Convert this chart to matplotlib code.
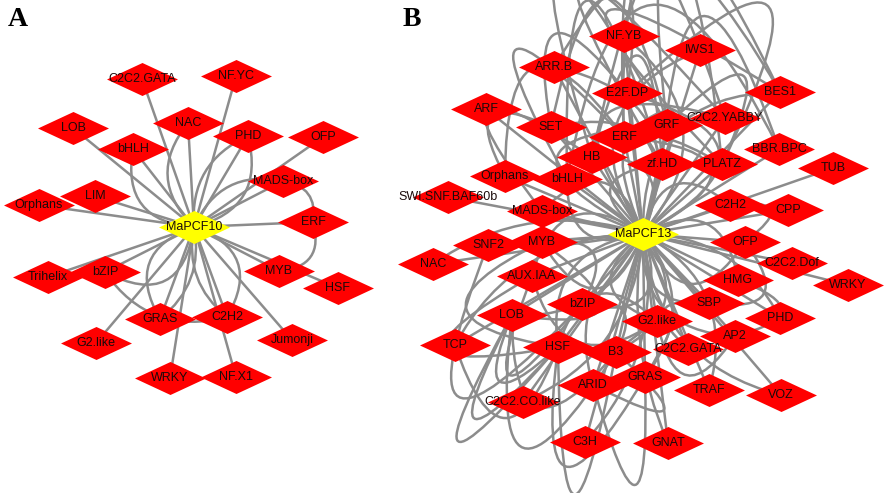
"""Two co-expression networks: MaPCF10 (A) and MaPCF13 (B) with TF families."""

import matplotlib

matplotlib.use("Agg")
import matplotlib.pyplot as plt
from matplotlib.patches import FancyArrowPatch

# ---- panel A nodes (pixel positions) ----
hub_a = "MaPCF10"
nodes_a = ["MaPCF10", "C2C2.GATA", "NF.YC", "LOB", "NAC", "bHLH", "PHD", "OFP",
           "MADS-box", "LIM", "Orphans", "ERF", "Trihelix", "bZIP", "MYB", "HSF",
           "GRAS", "C2H2", "G2.like", "Jumonji", "WRKY", "NF.X1"]
xa = [194, 142, 236, 73, 188, 133, 248, 323, 283, 95, 39, 313, 48, 105, 279,
      338, 160, 227, 96, 292, 170, 236]
ya = [227, 79, 76, 128, 123, 149, 136, 137, 181, 196, 205, 222, 277, 272, 271,
      288, 319, 317, 343, 340, 378, 377]
# extra curved interactions in A: (source, target, arc3 rad)
arcs_a = [("bHLH", "MaPCF10", 0.55), ("NAC", "MaPCF10", 0.45), ("PHD", "MaPCF10", -0.5),
          ("PHD", "MaPCF10", 0.35), ("MADS-box", "ERF", -0.5), ("MADS-box", "MaPCF10", 0.4),
          ("bZIP", "MaPCF10", 0.7), ("GRAS", "MaPCF10", -0.6), ("C2H2", "MaPCF10", 0.6),
          ("GRAS", "MaPCF10", 0.3), ("ERF", "MYB", -0.6), ("C2H2", "MaPCF10", -0.3),
          ("bZIP", "C2H2", 0.35)]

# ---- panel B nodes ----
hub_b = "MaPCF13"
nodes_b = ["MaPCF13", "NF.YB", "IWS1", "ARR.B", "E2F.DP", "BES1", "ARF", "SET", "GRF",
           "C2C2.YABBY", "ERF", "BBR.BPC", "HB", "zf.HD", "PLATZ", "TUB", "Orphans",
           "bHLH", "SWI.SNF.BAF60b", "MADS-box", "C2H2", "CPP", "SNF2", "MYB", "OFP",
           "NAC", "C2C2.Dof", "AUX.IAA", "HMG", "WRKY", "bZIP", "SBP", "LOB", "PHD",
           "G2.like", "AP2", "TCP", "HSF", "B3", "C2C2.GATA", "GRAS", "ARID", "TRAF",
           "VOZ", "C2C2.CO.like", "C3H", "GNAT"]
xb = [643, 624, 700, 554, 627, 780, 486, 551, 667, 725, 624, 779, 592, 662, 722, 833,
      505, 567, 448, 542, 730, 788, 488, 542, 745, 433, 792, 532, 738, 848, 582, 709,
      512, 780, 657, 735, 455, 558, 616, 688, 645, 593, 709, 781, 523, 585, 668]
yb = [234, 36, 50, 67, 93, 92, 109, 127, 125, 118, 137, 149, 157, 164, 164, 168, 176,
      179, 197, 211, 205, 210, 245, 242, 242, 264, 263, 276, 280, 285, 304, 303, 315,
      318, 321, 336, 345, 347, 352, 349, 377, 385, 390, 395, 402, 442, 443]
arcs_b = [
    # tall loops escaping over the top
    ("HB", "PLATZ", -3.2), ("bHLH", "zf.HD", -3.6), ("SET", "GRF", -2.2), ("ERF", "C2C2.YABBY", -3.5),
    ("MADS-box", "HB", -3.0), ("HB", "GRF", -4.5), ("E2F.DP", "PLATZ", -2.6), ("bHLH", "ERF", -3.8),
    ("zf.HD", "C2C2.YABBY", -5.0), ("SET", "E2F.DP", -2.0), ("PLATZ", "BES1", -4.0),
    ("ERF", "BES1", -2.0), ("bHLH", "BBR.BPC", -1.5), ("ARR.B", "E2F.DP", -2.5),
    ("GRF", "BES1", -3.0), ("zf.HD", "BBR.BPC", -2.4), ("Orphans", "SET", -1.5),
    ("MaPCF13", "GRF", -1.8), ("MaPCF13", "ERF", 1.6), ("MaPCF13", "C2C2.YABBY", -1.4),
    ("Orphans", "ERF", -1.5), ("MaPCF13", "E2F.DP", 1.2), ("MaPCF13", "IWS1", -0.6),
    ("MaPCF13", "NF.YB", 0.5), ("HB", "zf.HD", -3.0), ("MaPCF13", "SET", 0.9),
    ("MaPCF13", "ARR.B", 0.6), ("MaPCF13", "BES1", -0.5), ("MaPCF13", "PLATZ", -1.5),
    ("MaPCF13", "HB", 0.8), ("MaPCF13", "zf.HD", -1.2), ("GRF", "PLATZ", -2.5),
    ("ERF", "zf.HD", -2.0),
    # left side loops
    ("HSF", "LOB", -2.2), ("bZIP", "AUX.IAA", -3.4), ("HSF", "AUX.IAA", -2.8), ("B3", "LOB", -1.4),
    ("MYB", "LOB", -2.0), ("bZIP", "SNF2", -2.6), ("MaPCF13", "TCP", 0.3), ("MaPCF13", "NAC", 0.25),
    ("HSF", "MYB", -1.6), ("G2.like", "AUX.IAA", -0.7), ("MaPCF13", "LOB", -0.35),
    ("MaPCF13", "C2C2.CO.like", -0.3), ("bZIP", "MYB", 1.0),
    ("LOB", "HSF", 4.8), ("LOB", "HSF", 3.8), ("TCP", "HSF", 1.4), ("LOB", "B3", 2.2),
    # bottom loops
    ("ARID", "GRAS", 4.0), ("HSF", "B3", 5.0), ("ARID", "B3", 3.6), ("HSF", "GRAS", 2.4),
    ("B3", "GRAS", -3.2), ("MaPCF13", "C3H", -0.25), ("MaPCF13", "GNAT", 0.15),
    ("MaPCF13", "ARID", 0.35), ("MaPCF13", "GRAS", -0.4), ("MaPCF13", "HSF", 0.5),
    ("MaPCF13", "B3", -0.6), ("G2.like", "HSF", 0.8), ("bZIP", "B3", -1.0),
    # right side
    ("MaPCF13", "AP2", 0.5), ("MaPCF13", "TRAF", -0.4), ("MaPCF13", "VOZ", 0.35),
    ("MaPCF13", "SBP", 0.6), ("MaPCF13", "HMG", -0.7), ("MaPCF13", "OFP", 0.9),
    ("MaPCF13", "C2H2", -0.8), ("MaPCF13", "PHD", -0.3), ("SBP", "C2C2.GATA", 1.5),
    ("HMG", "AP2", -1.6), ("OFP", "SBP", -1.2), ("C2H2", "OFP", -1.8), ("G2.like", "AP2", 1.2),
    ("MaPCF13", "G2.like", 0.9), ("MaPCF13", "bZIP", -0.9), ("MaPCF13", "AUX.IAA", 0.7),
    ("MaPCF13", "MYB", -1.0), ("MaPCF13", "MADS-box", 0.8), ("MaPCF13", "bHLH", -0.7),
]

EDGE = "#8c8c8c"
NODE_RED = "#ff0000"
HUB_YELLOW = "#ffff00"
DIAMOND = [(-1.0, 0.0), (0.0, 0.465), (1.0, 0.0), (0.0, -0.465), (-1.0, 0.0)]

fig = plt.figure(figsize=(8.85, 4.93), dpi=100)
ax = fig.add_axes([0, 0, 1, 1])
ax.set_xlim(0, 885)
ax.set_ylim(493, 0)
ax.axis("off")


def draw_network(names, xs, ys, hub, arcs):
    pos = {n: (x, y) for n, x, y in zip(names, xs, ys)}
    hx, hy = pos[hub]
    for n in names:
        if n == hub:
            continue
        ax.plot([hx, pos[n][0]], [hy, pos[n][1]], color=EDGE, lw=1.8, zorder=1,
                solid_capstyle="round")
    for a, b, rad in arcs:
        ax.add_patch(FancyArrowPatch(pos[a], pos[b], arrowstyle="-", shrinkA=0, shrinkB=0,
                                     connectionstyle=f"arc3,rad={rad}", color=EDGE, lw=1.8,
                                     zorder=1))
    others = [n for n in names if n != hub]
    ax.scatter([pos[n][0] for n in others], [pos[n][1] for n in others], s=2611,
               marker=DIAMOND, color=NODE_RED, linewidths=0, zorder=2)
    ax.scatter([hx], [hy], s=2611, marker=DIAMOND, color=HUB_YELLOW, linewidths=0, zorder=3)
    for n in names:
        ax.text(pos[n][0], pos[n][1], n, ha="center", va="center", fontsize=9,
                family="Liberation Sans", color="#1a0a0a", zorder=4)


draw_network(nodes_a, xa, ya, hub_a, arcs_a)
draw_network(nodes_b, xb, yb, hub_b, arcs_b)

ax.text(17.5, 20, "A", fontsize=20, fontweight="bold", family="Liberation Serif",
        ha="center", va="center")
ax.text(412, 20, "B", fontsize=20, fontweight="bold", family="Liberation Serif",
        ha="center", va="center")

fig.savefig("out.png", dpi=100)
